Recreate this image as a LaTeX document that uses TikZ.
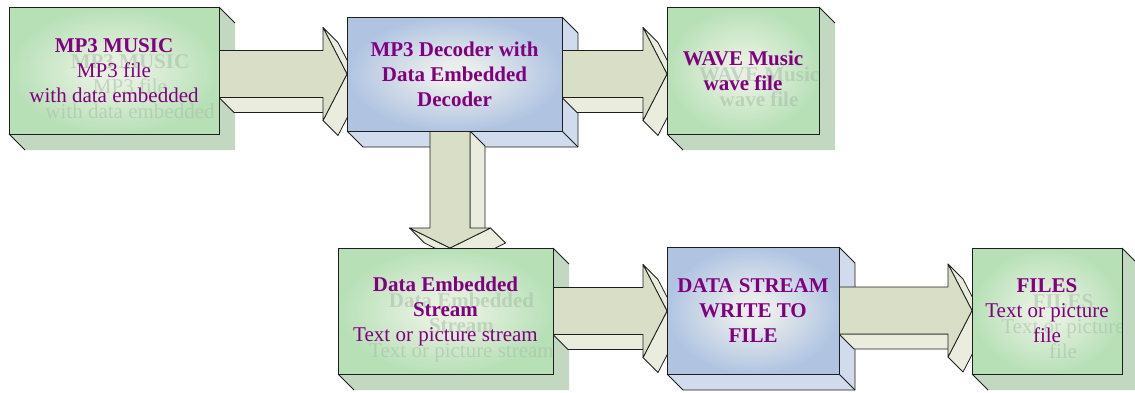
\documentclass[tikz,border=0pt]{standalone}
\usepackage{fontspec}
\setmainfont{Liberation Serif}
\usetikzlibrary{calc}

\pgfdeclarelayer{ext}
\pgfdeclarelayer{arr}
\pgfsetlayers{ext,arr,main}

\definecolor{labelpurple}{RGB}{128,0,128}
\definecolor{gcenter}{RGB}{230,241,224}
\definecolor{gedge}{RGB}{183,224,183}
\definecolor{gside}{RGB}{195,216,192}
\definecolor{bcenter}{RGB}{233,237,236}
\definecolor{bedge}{RGB}{176,196,226}
\definecolor{bside}{RGB}{208,220,238}
\definecolor{afront}{RGB}{217,222,198}
\definecolor{aside}{RGB}{234,236,222}
\definecolor{rimclr}{RGB}{30,30,30}
\definecolor{ghostclr}{RGB}{165,190,165}

\pgfdeclareradialshading{greenglow}{\pgfpoint{0bp}{0bp}}{color(0bp)=(gcenter); color(5bp)=(gcenter); color(25bp)=(gedge); color(50bp)=(gedge)}
\pgfdeclareradialshading{blueglow}{\pgfpoint{0bp}{0bp}}{color(0bp)=(bcenter); color(5bp)=(bcenter); color(25bp)=(bedge); color(50bp)=(bedge)}

\tikzset{
  boxface/.style={draw=rimclr, line width=0.8pt, inner sep=0pt, outer sep=0pt,
    align=center, text=labelpurple, font=\fontsize{21}{25}\selectfont},
  greenbox/.style={boxface, shading=greenglow},
  bluebox/.style={boxface, shading=blueglow},
  ghosttxt/.style={align=center, inner sep=0pt, text=ghostclr, text opacity=0.55,
    font=\fontsize{21}{25}\selectfont},
  rim/.style={draw=rimclr, line width=0.8pt, line join=round},
  arrowside/.style={rim, fill=aside},
  arrowfront/.style={rim, fill=afront},
}

% front face of a green block, with its faint offset copy of the label
\newcommand\greenblock[5]{%
  \node[greenbox, minimum width=#3, minimum height=#4,
    path picture={\node[ghosttxt] (#1-ghost) at ([shift={(16,-16)}]path picture bounding box.center) {#5};}]
    (#1) at (#2) {#5};
}
% front face of a blue block
\newcommand\blueblock[5]{%
  \node[bluebox, minimum width=#3, minimum height=#4] (#1) at (#2) {#5};
}
% depth of a green block: right and bottom faces
\newcommand\sidegreen[1]{%
  \fill[gside] (#1.north east) -- ++(16,-16) -- ([shift={(16,-16)}]#1.south east)
    -- ([shift={(16,-16)}]#1.south west) -- (#1.south west) -- cycle;
  \draw[rim] (#1.north east) -- ++(16,-16) (#1.south west) -- ++(16,-16);
}
% depth of a blue block, fully outlined
\newcommand\sideblue[1]{%
  \draw[rim, fill=bside] (#1.north east) -- ++(16,-16) -- ([shift={(16,-16)}]#1.south east)
    -- ([shift={(16,-16)}]#1.south west) -- (#1.south west);
  \draw[rim] (#1.south east) -- ++(16,-16);
}
% horizontal block arrow: from #1 to #2, on the level of #3
\newcommand\blockarrowh[3]{%
  \coordinate (ba-s) at (#1.east |- #3.center);
  \coordinate (ba-t) at (#2.west |- #3.center);
  \coordinate (ba-a) at ([shift={(0,23.5)}]ba-s);
  \coordinate (ba-b) at ([shift={(-24,23.5)}]ba-t);
  \coordinate (ba-c) at ([shift={(-24,46.5)}]ba-t);
  \coordinate (ba-e) at ([shift={(-24,-46.5)}]ba-t);
  \coordinate (ba-f) at ([shift={(-24,-23.5)}]ba-t);
  \coordinate (ba-g) at ([shift={(0,-23.5)}]ba-s);
  \draw[arrowside] (ba-g) -- (ba-f) -- ([shift={(15,-15)}]ba-f) -- ([shift={(15,-15)}]ba-g) -- cycle;
  \draw[arrowside] (ba-c) -- (ba-t) -- ([shift={(15,-15)}]ba-t) -- ([shift={(15,-15)}]ba-c) -- cycle;
  \draw[arrowside] (ba-t) -- (ba-e) -- ([shift={(15,-15)}]ba-e) -- ([shift={(15,-15)}]ba-t) -- cycle;
  \draw[arrowfront] (ba-a) -- (ba-b) -- (ba-c) -- (ba-t) -- (ba-e) -- (ba-f) -- (ba-g) -- cycle;
}
% downward block arrow from #1 to #2
\newcommand\blockarrowv[2]{%
  \coordinate (bv-m) at ($(#1.south)!0.5!(#2.north)$);
  \coordinate (bv-s) at (bv-m |- #1.south);
  \coordinate (bv-t) at (bv-m |- #2.north);
  \coordinate (bv-a) at ([shift={(-20,0)}]bv-s);
  \coordinate (bv-b) at ([shift={(20,0)}]bv-s);
  \coordinate (bv-c) at ([shift={(20,20)}]bv-t);
  \coordinate (bv-r) at ([shift={(40.5,20)}]bv-t);
  \coordinate (bv-l) at ([shift={(-40.5,20)}]bv-t);
  \coordinate (bv-f) at ([shift={(-20,20)}]bv-t);
  \draw[arrowside] (bv-b) -- (bv-c) -- ([shift={(15,-15)}]bv-c) -- ([shift={(15,-15)}]bv-b) -- cycle;
  \draw[arrowside] (bv-r) -- (bv-t) -- ([shift={(15,-15)}]bv-t) -- ([shift={(15,-15)}]bv-r) -- cycle;
  \draw[arrowside] (bv-t) -- (bv-l) -- ([shift={(15,-15)}]bv-l) -- ([shift={(15,-15)}]bv-t) -- cycle;
  \draw[arrowfront] (bv-a) -- (bv-b) -- (bv-c) -- (bv-r) -- (bv-t) -- (bv-l) -- (bv-f) -- cycle;
}

\begin{document}
\begin{tikzpicture}[x=1pt,y=1pt]
  \useasboundingbox (0,0) rectangle (1135,-392);

  \greenblock{mp3}{114,-70.5}{210pt}{127pt}{\textbf{MP3 MUSIC}\\MP3 file\\with data embedded}
  \blueblock{dec}{454.5,-74}{215pt}{114pt}{\textbf{MP3 Decoder with}\\\textbf{Data Embedded}\\\textbf{Decoder}}
  \greenblock{wav}{743,-70.5}{152pt}{127pt}{\textbf{WAVE Music}\\\textbf{wave file}}
  \greenblock{dse}{445.5,-311}{215pt}{126pt}{\textbf{Data Embedded}\\\textbf{Stream}\\Text or picture stream}
  \blueblock{dsw}{753,-310.5}{172pt}{127pt}{\textbf{DATA STREAM}\\\textbf{WRITE TO}\\\textbf{FILE}}
  \greenblock{fil}{1047,-311}{150pt}{126pt}{\textbf{FILES}\\Text or picture\\file}

  \begin{pgfonlayer}{ext}
    \sidegreen{mp3}
    \sideblue{dec}
    \sidegreen{wav}
    \sidegreen{dse}
    \sideblue{dsw}
    \sidegreen{fil}
  \end{pgfonlayer}

  \begin{pgfonlayer}{arr}
    \blockarrowh{mp3}{dec}{dec}
    \blockarrowh{dec}{wav}{dec}
    \blockarrowv{dec}{dse}
    \blockarrowh{dse}{dsw}{dse}
    \blockarrowh{dsw}{fil}{dsw}
  \end{pgfonlayer}
\end{tikzpicture}
\end{document}
